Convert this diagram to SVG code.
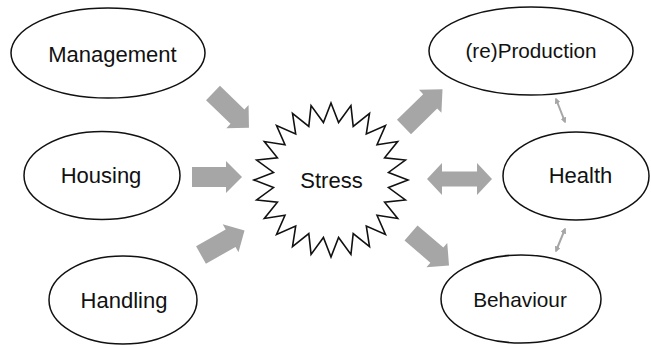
<svg xmlns="http://www.w3.org/2000/svg" xmlns:xlink="http://www.w3.org/1999/xlink" width="651" height="346" viewBox="0 0 651 346">
<style>
.node ellipse{fill:#fff;stroke:#111;stroke-width:1.5}
.lbl{font-family:"Liberation Sans",Arial,sans-serif;font-size:22px;fill:#111;text-anchor:middle}
.blk{fill:#a6a6a6}
.thin{stroke:#a6a6a6;stroke-width:2;fill:none}
</style>
<defs>
<path id="blk" d="M0,-10 H34 V-16 L50,0 L34,16 V10 H0 Z"/>
<marker id="ah" viewBox="0 0 8 8" refX="6" refY="4" markerWidth="6" markerHeight="6" orient="auto-start-reverse" markerUnits="userSpaceOnUse">
<path d="M0,0 L8,4 L0,8 Z" fill="#a6a6a6"/>
</marker>
</defs>
<rect width="651" height="346" fill="#fff"/>
<g id="connectors">
<use xlink:href="#blk" class="blk" transform="translate(213,93) rotate(44)"/>
<use xlink:href="#blk" class="blk" transform="translate(192,177)"/>
<use xlink:href="#blk" class="blk" transform="translate(201,255) rotate(-29.5)"/>
<use xlink:href="#blk" class="blk" transform="translate(404,127) rotate(-44.5) scale(1.08,1)"/>
<use xlink:href="#blk" class="blk" transform="translate(411,233) rotate(40.5)"/>
<path class="blk" d="M427,179 L442,163 V171.5 H477 V163 L492,179 L477,195 V186.5 H442 V195 Z"/>
<line class="thin" x1="556" y1="99" x2="565" y2="122" marker-start="url(#ah)" marker-end="url(#ah)"/>
<line class="thin" x1="565" y1="229" x2="556" y2="251" marker-start="url(#ah)" marker-end="url(#ah)"/>
</g>
<g id="stress" class="node">
<polygon transform="translate(331,180)" fill="#fff" stroke="#111" stroke-width="1.6" stroke-linejoin="miter" points="0,-77 7.57,-57.5 19.93,-74.37 22.2,-53.59 38.5,-66.68 35.31,-46.02 54.45,-54.45 46.02,-35.31 66.68,-38.5 53.59,-22.2 74.37,-19.93 57.5,-7.57 77,0 57.5,7.57 74.37,19.93 53.59,22.2 66.68,38.5 46.02,35.31 54.45,54.45 35.31,46.02 38.5,66.68 22.2,53.59 19.93,74.37 7.57,57.5 0,77 -7.57,57.5 -19.93,74.37 -22.2,53.59 -38.5,66.68 -35.31,46.02 -54.45,54.45 -46.02,35.31 -66.68,38.5 -53.59,22.2 -74.37,19.93 -57.5,7.57 -77,0 -57.5,-7.57 -74.37,-19.93 -53.59,-22.2 -66.68,-38.5 -46.02,-35.31 -54.45,-54.45 -35.31,-46.02 -38.5,-66.68 -22.2,-53.59 -19.93,-74.37 -7.57,-57.5"/>
<text class="lbl" x="331.5" y="188">Stress</text>
</g>
<g id="management" class="node">
<ellipse cx="108" cy="53" rx="97" ry="45"/>
<text class="lbl" x="112.5" y="62">Management</text>
</g>
<g id="housing" class="node">
<ellipse cx="102" cy="175.5" rx="78" ry="44"/>
<text class="lbl" x="101" y="183">Housing</text>
</g>
<g id="handling" class="node">
<ellipse cx="123" cy="300" rx="74" ry="44"/>
<text class="lbl" x="124" y="307.5">Handling</text>
</g>
<g id="production" class="node">
<ellipse cx="531" cy="51" rx="102" ry="44"/>
<text class="lbl" x="531" y="58" style="font-size:20.7px">(re)Production</text>
</g>
<g id="health" class="node">
<ellipse cx="576" cy="176" rx="73" ry="44"/>
<text class="lbl" x="580.5" y="183">Health</text>
</g>
<g id="behaviour" class="node">
<ellipse cx="521" cy="299" rx="80" ry="44"/>
<text class="lbl" x="520" y="306.5" style="font-size:20.8px">Behaviour</text>
</g>
</svg>
